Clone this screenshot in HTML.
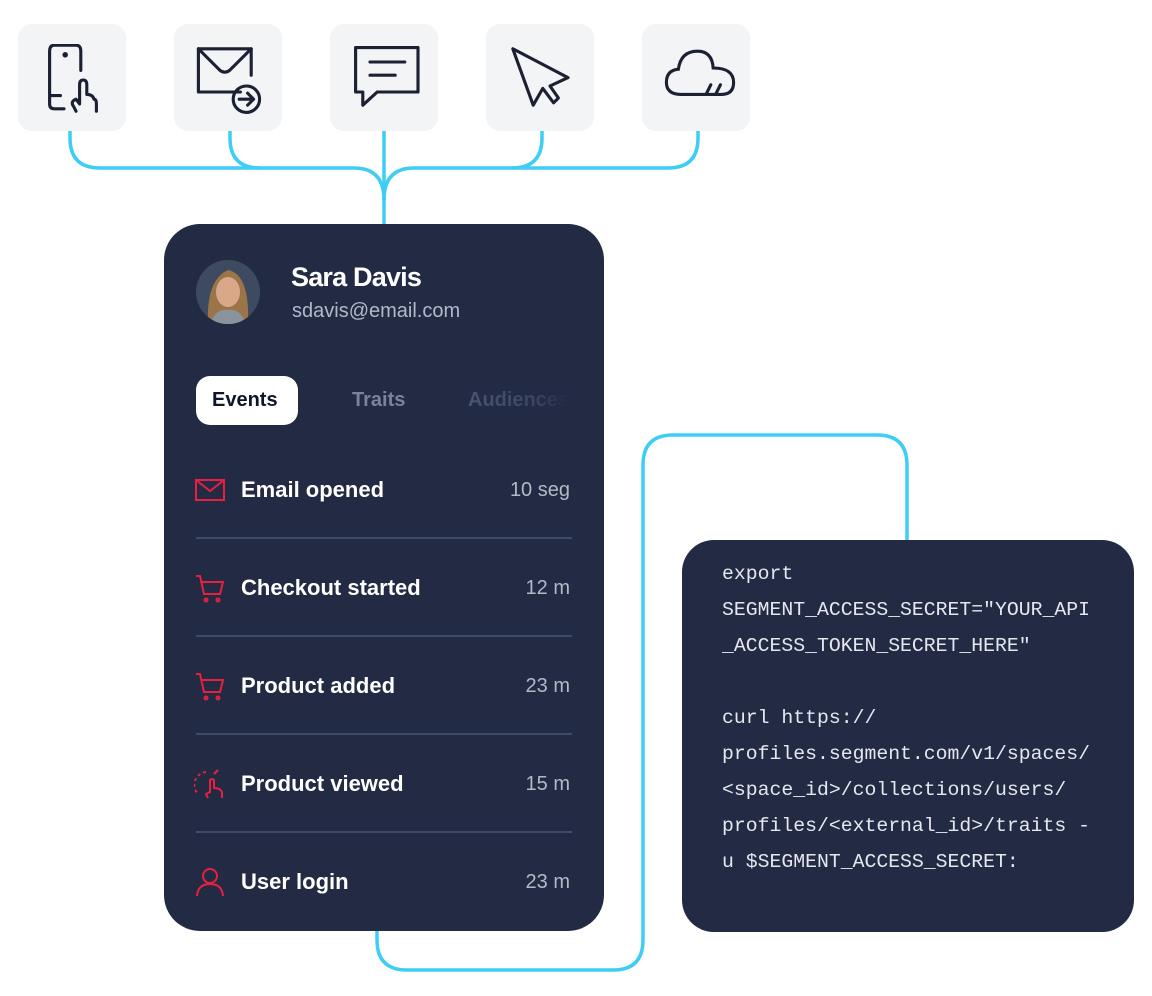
<!DOCTYPE html>
<html><head><meta charset="utf-8"><style>
body{margin:0;width:1152px;height:996px;background:#fff;position:relative;overflow:hidden;font-family:"Liberation Sans",sans-serif}
.box{position:absolute;top:24px;width:108px;height:107px;background:#f2f4f6;border-radius:14px}
.box svg{position:absolute;left:22px;top:20px}
.card{position:absolute;left:164px;top:224px;width:440px;height:707px;background:#222a44;border-radius:36px}
.code{position:absolute;left:682px;top:540px;width:452px;height:392px;background:#222a44;border-radius:32px}
.code pre{margin:0;position:absolute;left:40px;top:16px;font-family:"Liberation Mono",monospace;font-size:19.8px;line-height:36px;color:#e6e8f0}
.t{position:absolute;color:#fff;font-weight:bold}
.ev{position:absolute;left:241px;font-size:22px;color:#fff;font-weight:bold}
.tm{position:absolute;right:582px;font-size:20px;color:#b4b9c8;text-align:right}
.sep{position:absolute;left:196px;width:376px;height:2px;background:#3f4a66}
.ic{position:absolute;left:194px}
</style></head><body>
<svg width="1152" height="996" style="position:absolute;left:0;top:0" fill="none" stroke="#3ecdf5" stroke-width="3.5">
<path d="M70 131 V138 Q70 168 100 168 H354 Q384 168 384 200"/>
<path d="M230 131 V138 Q230 168 260 168"/>
<path d="M698 131 V138 Q698 168 668 168 H414 Q384 168 384 200"/>
<path d="M542 131 V138 Q542 168 512 168"/>
<path d="M384 131 V224"/>
<path d="M377 931 V940 Q377 970 407 970 H613 Q643 970 643 940 V465 Q643 435 673 435 H877 Q907 435 907 465 V540"/>
</svg>
<div class="box" style="left:18px"><svg width="72" height="72" viewBox="0 0 60 60" fill="none" stroke="#1b2033" stroke-width="2.6" stroke-linecap="round" stroke-linejoin="round"><path d="M34 22 V6 Q34 1 30 1 H12 Q8 1 8 6 V50 Q8 54 12 54 H20"/><path d="M9 43 H17"/><circle cx="21" cy="9" r="1" fill="#1b2033"/><path d="M30 56 L28 52 Q25 48 30 46 L33 50 V34 Q33 30 36 30 Q39 30 39 34 V42 Q44 42 45 46 Q47 46 47 50 V56"/></svg></div>
<div class="box" style="left:174px"><svg width="72" height="72" viewBox="0 0 60 60" fill="none" stroke="#1b2033" stroke-width="2.6" stroke-linecap="round" stroke-linejoin="round"><path d="M37 40 H2 V4 H46 V26"/><path d="M2 4 L20 22 Q24 25 28 22 L46 4"/><circle cx="42" cy="46" r="11"/><path d="M36 46 H47 M43 41 L48 46 L43 51"/></svg></div>
<div class="box" style="left:330px"><svg width="72" height="72" viewBox="0 0 60 60" fill="none" stroke="#1b2033" stroke-width="2.6" stroke-linejoin="round" stroke-linecap="round"><path d="M3 3 H55 V40 H21 L9 51 V40 H3 Z"/><path d="M15 15 H44 M15 26 H36"/></svg></div>
<div class="box" style="left:486px"><svg width="72" height="72" viewBox="0 0 60 60" fill="none" stroke="#1b2033" stroke-width="2.6" stroke-linejoin="round"><path d="M4 4 L21 51 L29 37 L38 49 L42 45 L35 35 L50 28 Z"/></svg></div>
<div class="box" style="left:642px"><svg width="72" height="72" viewBox="0 0 60 60" fill="none" stroke="#1b2033" stroke-width="2.6" stroke-linecap="round"><path d="M14 42 Q2 42 2 32 Q2 22 12 21 Q14 6 28 6 Q40 6 41 20 Q58 20 58 32 Q58 42 48 42 Z"/><path d="M35 42 L39 34 M43 42 L47 34"/></svg></div>

<div class="card"></div>
<svg style="position:absolute;left:196px;top:260px" width="64" height="64"><defs><clipPath id="c"><circle cx="32" cy="32" r="32"/></clipPath></defs><circle cx="32" cy="32" r="32" fill="#3d4a60"/><g clip-path="url(#c)"><path d="M12 64 Q10 20 32 10 Q54 14 52 64 Z" fill="#9b7448"/><ellipse cx="32" cy="32" rx="12" ry="15" fill="#d9a888"/><path d="M14 64 Q20 48 32 50 Q44 48 50 64 Z" fill="#8a949c"/></g></svg>
<div class="t" style="left:291px;top:262px;font-size:27px;letter-spacing:-0.8px">Sara Davis</div>
<div style="position:absolute;left:292px;top:300px;font-size:20px;color:#b4b9c8">sdavis@email.com</div>
<div style="position:absolute;left:196px;top:376px;width:102px;height:49px;background:#fff;border-radius:14px"></div>
<div style="position:absolute;left:212px;top:389px;font-size:20px;font-weight:bold;color:#10152a">Events</div>
<div style="position:absolute;left:352px;top:389px;font-size:20px;font-weight:bold;color:#7a8399">Traits</div>
<div style="position:absolute;left:468px;top:389px;width:100px;overflow:hidden;white-space:nowrap;font-size:20px;font-weight:bold;color:transparent;background:linear-gradient(90deg,#4a5470,#3a4460 70%,#222a44);-webkit-background-clip:text;background-clip:text">Audiences</div>

<svg class="ic" style="top:478px" width="32" height="24" fill="none" stroke="#e8203f" stroke-width="2"><rect x="2" y="2" width="28" height="20"/><path d="M2 2 L16 13 L30 2"/></svg>
<div class="ev" style="top:477px">Email opened</div><div class="tm" style="top:479px">10 seg</div>
<div class="sep" style="top:537px"></div>
<svg class="ic" style="top:574px" width="32" height="30" fill="none" stroke="#e8203f" stroke-width="2"><path d="M2 2 H6 L10 20 H26 L29 8 H8"/><circle cx="12" cy="26" r="1.5"/><circle cx="24" cy="26" r="1.5"/></svg>
<div class="ev" style="top:575px">Checkout started</div><div class="tm" style="top:577px">12 m</div>
<div class="sep" style="top:635px"></div>
<svg class="ic" style="top:672px" width="32" height="30" fill="none" stroke="#e8203f" stroke-width="2"><path d="M2 2 H6 L10 20 H26 L29 8 H8"/><circle cx="12" cy="26" r="1.5"/><circle cx="24" cy="26" r="1.5"/></svg>
<div class="ev" style="top:673px">Product added</div><div class="tm" style="top:675px">23 m</div>
<div class="sep" style="top:733px"></div>
<svg class="ic" style="top:768px" width="32" height="32" fill="none" stroke="#e8203f" stroke-width="2"><path d="M12 4 A13 13 0 0 0 4 26" stroke-dasharray="3 3"/><path d="M14 30 L12 26 L16 24 V12 Q18 10 20 12 V20 Q26 20 28 24 V30"/><path d="M20 6 L24 2"/></svg>
<div class="ev" style="top:771px">Product viewed</div><div class="tm" style="top:773px">15 m</div>
<div class="sep" style="top:831px"></div>
<svg class="ic" style="top:866px" width="32" height="32" fill="none" stroke="#e8203f" stroke-width="2"><circle cx="16" cy="10" r="7"/><path d="M3 30 Q4 18 16 18 Q28 18 29 30"/></svg>
<div class="ev" style="top:869px">User login</div><div class="tm" style="top:871px">23 m</div>

<div class="code"><pre>export
SEGMENT_ACCESS_SECRET="YOUR_API
_ACCESS_TOKEN_SECRET_HERE"

curl https://
profiles.segment.com/v1/spaces/
&lt;space_id&gt;/collections/users/
profiles/&lt;external_id&gt;/traits -
u $SEGMENT_ACCESS_SECRET:</pre></div>
</body></html>
